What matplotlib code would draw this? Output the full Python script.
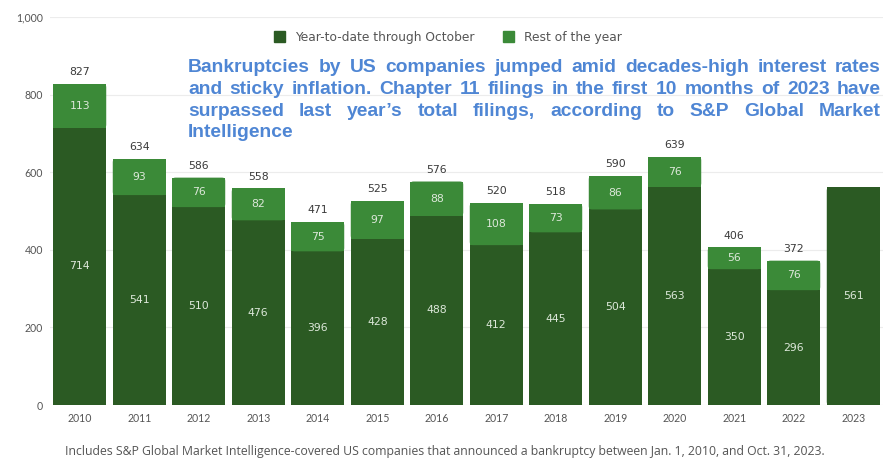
import matplotlib
matplotlib.use("Agg")
import matplotlib.pyplot as plt
from matplotlib.patches import Patch, FancyBboxPatch

# Chapter 11 filings by US companies, S&P Global Market Intelligence
years = ["2010", "2011", "2012", "2013", "2014", "2015", "2016",
         "2017", "2018", "2019", "2020", "2021", "2022", "2023"]
ytd_october = [714, 541, 510, 476, 396, 428, 488, 412, 445, 504, 563, 350, 296, 561]
rest_of_year = [113, 93, 76, 82, 75, 97, 88, 108, 73, 86, 76, 56, 76, 0]

dark_green = "#2b5a23"
light_green = "#3b8a38"
title_blue = "#4f86d4"
grey_text = "#555555"

title_lines = [
    "Bankruptcies by US companies jumped amid decades-high interest rates",
    "and sticky inflation. Chapter 11 filings in the first 10 months of 2023 have",
    "surpassed last year\u2019s total filings, according to S&P Global Market",
    "Intelligence",
]
footnote = ("Includes S&P Global Market Intelligence-covered US companies that announced "
            "a bankruptcy between Jan. 1, 2010, and Oct. 31, 2023.")

W, H = 889, 466
fig = plt.figure(figsize=(W / 100, H / 100), dpi=100)
fig.patch.set_facecolor("white")
ax = fig.add_axes([50 / W, 1 - 405 / H, 833 / W, 388 / H])

x = list(range(len(years)))
width = 0.89
ax.bar(x, ytd_october, width=width, color=dark_green, zorder=2)
ax.bar(x, rest_of_year, width=width, bottom=ytd_october, color=light_green, zorder=2)

# rounded caps on the top segment of each bar
px_per_x = 833 / 14
px_per_y = 388 / 1000
rad = 0.05
for i in x:
    total = ytd_october[i] + rest_of_year[i]
    seg_lo = ytd_october[i] if rest_of_year[i] else 0
    col = light_green if rest_of_year[i] else dark_green
    cap = FancyBboxPatch((i - width / 2, seg_lo), width, total - seg_lo,
                         boxstyle="round,pad=0,rounding_size=%g" % rad,
                         mutation_aspect=px_per_x / px_per_y,
                         facecolor=col, edgecolor="none", zorder=3)
    ax.add_patch(cap)
    ax.bar(i, (total - seg_lo) / 2, width=width, bottom=seg_lo, color=col, zorder=3)

num_font = dict(family="DejaVu Sans", fontsize=7.8)
for i in x:
    ax.text(i, ytd_october[i] / 2, str(ytd_october[i]), ha="center", va="center",
            color="#dde8da", zorder=4, **num_font)
    if rest_of_year[i]:
        ax.text(i, ytd_october[i] + rest_of_year[i] / 2, str(rest_of_year[i]),
                ha="center", va="center", color="#dde8da", zorder=4, **num_font)
        ax.annotate(str(ytd_october[i] + rest_of_year[i]),
                    (i, ytd_october[i] + rest_of_year[i]), xytext=(0, 5),
                    textcoords="offset points", ha="center", va="bottom",
                    color="#3a3a3a", **num_font)

ax.set_xlim(-0.5, len(years) - 0.5)
ax.set_ylim(0, 1000)
ax.set_yticks([0, 200, 400, 600, 800, 1000])
ax.set_yticklabels(["0", "200", "400", "600", "800", "1,000"])
ax.set_xticks(x)
ax.set_xticklabels(years)
ax.tick_params(length=0, labelsize=7.6, labelcolor=grey_text)
ax.tick_params(axis="x", pad=6)
ax.tick_params(axis="y", pad=5)
for lab in ax.get_xticklabels() + ax.get_yticklabels():
    lab.set_family("Lato")
ax.grid(axis="y", color="#ececec", linewidth=0.8, zorder=0)
for s in ax.spines.values():
    s.set_visible(False)

handles = [Patch(color=dark_green, label="Year-to-date through October"),
           Patch(color=light_green, label="Rest of the year")]
fig.legend(handles=handles, loc="center", bbox_to_anchor=(448 / W, 1 - 37 / H),
           ncol=2, frameon=False, handlelength=0.95, handleheight=0.95,
           handletextpad=0.8, columnspacing=2.3, borderpad=0,
           prop={"family": "DejaVu Sans", "size": 8.8}, labelcolor=grey_text)

# justified title block
fig.canvas.draw()
renderer = fig.canvas.get_renderer()
left_px, right_px = 188, 881
line_px = 21.5
first_base_px = 72.5
tfont = dict(family="Liberation Sans", weight="bold", color=title_blue)

# size the type so the widest justified line fits the column, leaving some word space
natural = []
for line in title_lines[:-1]:
    probe = fig.text(0, 0, line, size=12, **tfont)
    natural.append(probe.get_window_extent(renderer).width)
    probe.remove()
size = 0.96 * 12 * (right_px - left_px) / max(natural)

for n, line in enumerate(title_lines):
    words = line.split(" ")
    y = 1 - (first_base_px + n * line_px) / H
    items = [fig.text(0, y, w, ha="left", va="baseline", size=size, **tfont) for w in words]
    widths = [t.get_window_extent(renderer).width for t in items]
    if n < len(title_lines) - 1 and len(words) > 1:
        gap = (right_px - left_px - sum(widths)) / (len(words) - 1)
    else:
        gap = size * 100 / 72 * 0.28
    pos = left_px
    for t, w in zip(items, widths):
        t.set_x(pos / W)
        pos += w + gap

fig.text(0.5, 1 - 452 / H, footnote, ha="center", va="center",
         fontsize=8.8, color=grey_text, family="Open Sans")

fig.savefig("out.png", dpi=100, facecolor="white")
